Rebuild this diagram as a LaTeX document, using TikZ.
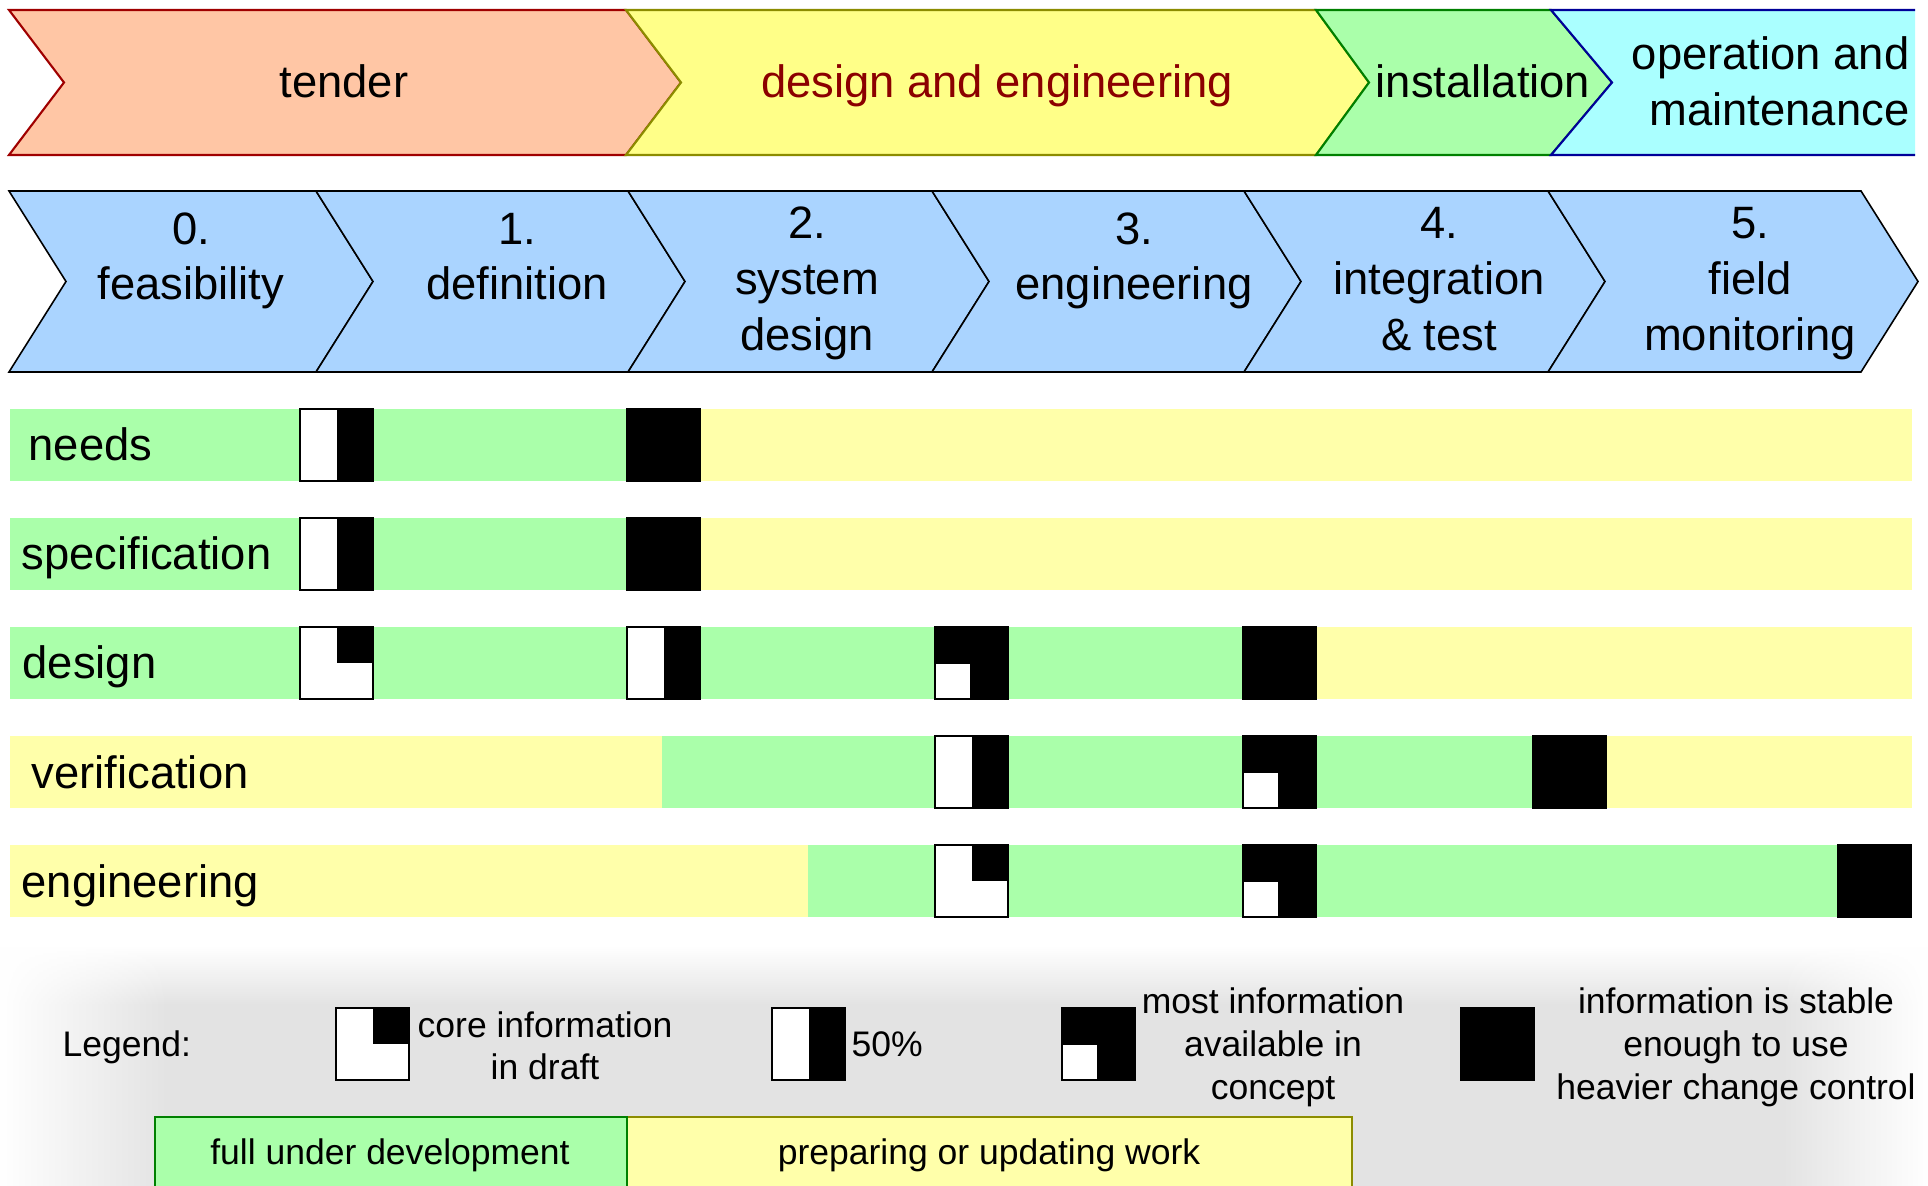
\documentclass[tikz,border=0pt]{standalone}
\usepackage{fontspec}
\setmainfont{Liberation Sans}
\usetikzlibrary{fadings}
\definecolor{tenderfill}{HTML}{FFC6A5}
\definecolor{tenderline}{HTML}{A00000}
\definecolor{defill}{HTML}{FFFF88}
\definecolor{deline}{HTML}{8C8C00}
\definecolor{detext}{HTML}{8B0000}
\definecolor{instfill}{HTML}{AAFFAA}
\definecolor{instline}{HTML}{008000}
\definecolor{opfill}{HTML}{AAFFFF}
\definecolor{opline}{HTML}{000099}
\definecolor{chevblue}{HTML}{AAD4FF}
\definecolor{rowgreen}{HTML}{AAFFAA}
\definecolor{rowyellow}{HTML}{FFFFAA}
\definecolor{leggray}{HTML}{E3E3E3}
\tikzfading[name=fadeleft, left color=transparent!0, right color=transparent!100]
\tikzfading[name=faderight, left color=transparent!100, right color=transparent!0]
\newcommand{\bigfont}{\fontsize{12.9pt}{15.6pt}\selectfont}
\newcommand{\legfont}{\fontsize{10.1pt}{11.6pt}\selectfont}
\tikzset{
  big/.style={font=\bigfont, inner sep=0pt, anchor=base},
  leg/.style={font=\legfont, inner sep=0pt, anchor=base},
  chev/.style={fill=chevblue, draw=black, line width=0.45pt, line join=miter},
  band/.style={line width=0.6pt, line join=miter},
  mk/.style={draw=black, line width=0.6pt},
  halfmark/.pic={
    \filldraw[fill=white, mk] (0,0) rectangle (73,72);
    \fill[black] (36.5,0) rectangle (73,72);
    \draw[mk] (0,0) rectangle (73,72);
  },
  coremark/.pic={
    \filldraw[fill=white, mk] (0,0) rectangle (73,72);
    \fill[black] (36.5,0) rectangle (73,36);
    \draw[mk] (0,0) rectangle (73,72);
  },
  mostmark/.pic={
    \fill[black] (0,0) rectangle (73,72);
    \filldraw[fill=white, mk] (0,36) rectangle (36.5,72);
    \draw[mk] (0,0) rectangle (73,72);
  },
  fullmark/.pic={
    \filldraw[fill=black, mk] (0,0) rectangle (73,72);
  },
}
\begin{document}
\begin{tikzpicture}[x=0.01cm, y=-0.01cm]
\useasboundingbox (0,0) rectangle (1928,1186);
\fill[white] (0,0) rectangle (1928,1186);

% ---------- top phase band ----------
\filldraw[band, fill=tenderfill, draw=tenderline] (9,10) -- (626,10) -- (681,82.5) -- (626,155) -- (9,155) -- (64,82.5) -- cycle;
\filldraw[band, fill=defill, draw=deline] (626,10) -- (1316,10) -- (1369,82.5) -- (1316,155) -- (626,155) -- (681,82.5) -- cycle;
\filldraw[band, fill=instfill, draw=instline] (1316,10) -- (1551,10) -- (1612,82.5) -- (1551,155) -- (1316,155) -- (1369,82.5) -- cycle;
\fill[opfill] (1551,10) -- (1915,10) -- (1915,155) -- (1551,155) -- (1612,82.5) -- cycle;
\draw[band, draw=opline] (1915,10) -- (1551,10) -- (1612,82.5) -- (1551,155) -- (1915,155);

\node[big] (tender) at (344,98) {tender};
\node[big, text=detext] (deng) at (997,98) {design and engineering};
\node[big] (inst) at (1483,98) {installation};
\node[big, anchor=base east] (opa) at (1910,70) {operation and};
\node[big, anchor=base east] (opb) at (1910,126) {maintenance};

% ---------- process chevrons ----------
\foreach \a/\b in {9/316, 316/628, 628/932, 932/1244, 1244/1548, 1548/1861}
  \filldraw[chev] (\a,191) -- (\b,191) -- ({\b+57},281.5) -- (\b,372) -- (\a,372) -- ({\a+57},281.5) -- cycle;

\node[big] (p0a) at (191,245) {0.};
\node[big] (p0b) at (191,300) {feasibility};
\node[big] (p1a) at (517,245) {1.};
\node[big] (p1b) at (517,300) {definition};
\node[big] (p2a) at (807,239) {2.};
\node[big] (p2b) at (807,295) {system};
\node[big] (p2c) at (807,351) {design};
\node[big] (p3a) at (1134,245) {3.};
\node[big] (p3b) at (1134,300) {engineering};
\node[big] (p4a) at (1439,239) {4.};
\node[big] (p4b) at (1439,295) {integration};
\node[big] (p4c) at (1439,351) {\& test};
\node[big] (p5a) at (1750,239) {5.};
\node[big] (p5b) at (1750,295) {field};
\node[big] (p5c) at (1750,351) {monitoring};

% ---------- rows ----------
% needs
\fill[rowgreen] (10,409) rectangle (627,481);
\fill[rowyellow] (627,409) rectangle (1912,481);
% specification
\fill[rowgreen] (10,518) rectangle (627,590);
\fill[rowyellow] (627,518) rectangle (1912,590);
% design
\fill[rowgreen] (10,627) rectangle (1243,699);
\fill[rowyellow] (1243,627) rectangle (1912,699);
% verification
\fill[rowyellow] (10,736) rectangle (662,808);
\fill[rowgreen] (662,736) rectangle (1533,808);
\fill[rowyellow] (1533,736) rectangle (1912,808);
% engineering
\fill[rowyellow] (10,845) rectangle (808,917);
\fill[rowgreen] (808,845) rectangle (1838,917);

\node[big, anchor=base west] (rneeds) at (28,461) {needs};
\node[big, anchor=base west] (rspec) at (21,570) {specification};
\node[big, anchor=base west] (rdes) at (22,679) {design};
\node[big, anchor=base west] (rver) at (31,788) {verification};
\node[big, anchor=base west] (reng) at (21,897) {engineering};

\pic at (300,409) {halfmark};
\pic at (627,409) {fullmark};
\pic at (300,518) {halfmark};
\pic at (627,518) {fullmark};
\pic at (300,627) {coremark};
\pic at (627,627) {halfmark};
\pic at (935,627) {mostmark};
\pic at (1243,627) {fullmark};
\pic at (935,736) {halfmark};
\pic at (1243,736) {mostmark};
\pic at (1533,736) {fullmark};
\pic at (935,845) {coremark};
\pic at (1243,845) {mostmark};
\pic at (1838,845) {fullmark};

% ---------- legend ----------
\shade[top color=white, bottom color=leggray] (0,945) rectangle (1928,1005);
\fill[leggray] (0,1005) rectangle (1928,1186);
\fill[white, path fading=fadeleft, fit fading=true] (0,940) rectangle (170,1186);
\fill[white, path fading=faderight, fit fading=true] (1780,940) rectangle (1928,1186);

\node[leg, anchor=base west] (legend) at (62,1056) {Legend:};
\pic at (336,1008) {coremark};
\node[leg] (lcorea) at (545,1037) {core information};
\node[leg] (lcoreb) at (545,1079) {in draft};
\pic at (772,1008) {halfmark};
\node[leg, anchor=base west] (lhalf) at (851,1056) {50\%};
\pic at (1062,1008) {mostmark};
\node[leg] (lmosta) at (1273,1013) {most information};
\node[leg] (lmostb) at (1273,1056) {available in};
\node[leg] (lmostc) at (1273,1099) {concept};
\pic at (1461,1008) {fullmark};
\node[leg] (lfulla) at (1736,1013) {information is stable};
\node[leg] (lfullb) at (1736,1056) {enough to use};
\node[leg] (lfullc) at (1736,1099) {heavier change control};

\fill[rowyellow] (627,1117) rectangle (1352,1190);
\draw[band, draw=deline] (627,1190) -- (627,1117) -- (1352,1117) -- (1352,1190);
\fill[rowgreen] (155,1117) rectangle (627,1190);
\draw[band, draw=instline] (155,1190) -- (155,1117) -- (627,1117) -- (627,1190);
\node[leg] (lgreen) at (390,1164) {full under development};
\node[leg] (lyellow) at (989,1164) {preparing or updating work};
\end{tikzpicture}
\end{document}
